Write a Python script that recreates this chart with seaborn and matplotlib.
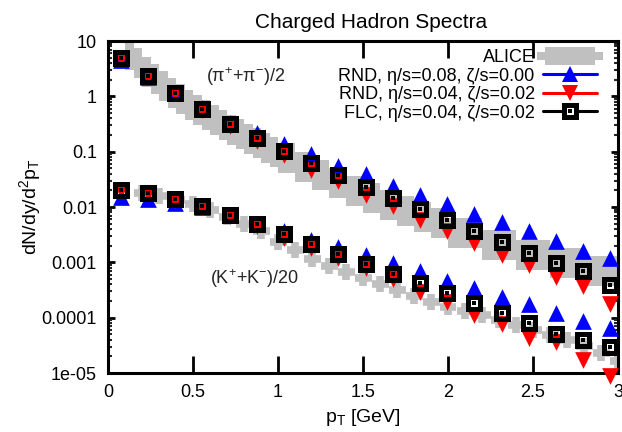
import numpy as np
import matplotlib
matplotlib.use('Agg')
import matplotlib.pyplot as plt
import seaborn as sns
from matplotlib.lines import Line2D
from matplotlib.ticker import FixedLocator, FixedFormatter, LogLocator, NullFormatter

# ── data ────────────────────────────────────────────
pt_model = [0.075, 0.235, 0.395, 0.555, 0.715, 0.875, 1.035, 1.195, 1.355, 1.515,
            1.675, 1.835, 1.995, 2.155, 2.315, 2.475, 2.635, 2.795, 2.955]

# pions (pi+ + pi-)/2
pi_rnd_a = [4.54, 2.23, 1.15, 0.615, 0.330, 0.222, 0.140, 0.0889, 0.0562, 0.0387,
            0.0244, 0.0168, 0.0111, 0.00762, 0.00525, 0.00361, 0.00248, 0.00163, 0.00122]
pi_rnd_b = [4.93, 2.33, 1.15, 0.566, 0.291, 0.153, 0.0853, 0.0476, 0.0301, 0.0168,
            0.0106, 0.00594, 0.00376, 0.00228, 0.00138, 0.000877, 0.000532, 0.000381, 0.000173]
pi_flc = [4.93, 2.33, 1.15, 0.590, 0.316, 0.177, 0.103, 0.0624, 0.0379, 0.0230,
          0.0145, 0.0092, 0.00582, 0.00368, 0.00233, 0.00147, 0.00097, 0.00070, 0.00039]

# kaons (K+ + K-)/20
k_rnd_a = [0.0149, 0.0142, 0.0120, 0.0098, 0.00716, 0.00483, 0.00376, 0.00258, 0.00193, 0.00133,
           0.000953, 0.000711, 0.000469, 0.000337, 0.000241, 0.000173, 0.000119, 8.87e-05, 6.64e-05]
k_rnd_b = [0.0203, 0.0179, 0.0134, 0.0100, 0.00687, 0.00453, 0.00281, 0.00185, 0.00122, 0.000805,
           0.000490, 0.000297, 0.000188, 0.000114, 7.83e-05, 4.38e-05, 3.56e-05, 1.75e-05, 9.0e-06]
k_flc = [0.0203, 0.0179, 0.0139, 0.0104, 0.00716, 0.00493, 0.00325, 0.00214, 0.00141, 0.000933,
         0.000615, 0.000423, 0.000279, 0.000184, 0.000121, 8.0e-05, 5.07e-05, 3.94e-05, 2.95e-05]

# ALICE pions: bin centres, bin widths, values
alice_pi_pt = [0.125, 0.175, 0.225, 0.275, 0.325, 0.375, 0.425, 0.475, 0.525, 0.575,
               0.625, 0.675, 0.725, 0.775, 0.825, 0.875, 0.925, 0.975,
               1.05, 1.15, 1.25, 1.35, 1.45, 1.55, 1.65, 1.75, 1.85, 1.95,
               2.1, 2.3, 2.5, 2.7, 2.9]
alice_pi_bw = [0.05] * 18 + [0.1] * 10 + [0.2] * 5
alice_pi = [5.58, 4.00, 2.75, 2.06, 1.54, 1.15, 0.895, 0.697, 0.566, 0.460,
            0.373, 0.303, 0.246, 0.209, 0.169, 0.143, 0.116, 0.0986,
            0.0768, 0.0528, 0.0379, 0.0271, 0.0195, 0.0145, 0.01086, 0.00846, 0.00659, 0.00514,
            0.00339, 0.00206, 0.00136, 0.000972, 0.000697]
alice_pi_err = 1.85   # multiplicative half-width of the band

alice_k_pt = [0.2, 0.3, 0.4, 0.5, 0.6, 0.7, 0.8, 0.9, 1.0, 1.1, 1.2, 1.3, 1.4, 1.5, 1.6,
              1.7, 1.8, 1.9, 2.0, 2.1, 2.2, 2.3, 2.4, 2.5, 2.6, 2.7, 2.8, 2.9, 3.0]
alice_k = [0.0179, 0.0158, 0.0134, 0.0113, 0.00883, 0.00659, 0.00493, 0.00368, 0.00233, 0.00167,
           0.00115, 0.000859, 0.000668, 0.000521, 0.000406, 0.000316, 0.000246, 0.000192,
           0.000156, 0.000132, 0.000112, 9.08e-05, 7.36e-05, 5.98e-05, 4.85e-05, 3.94e-05,
           3.08e-05, 2.30e-05, 1.65e-05]
alice_k_err = 1.4

y_ticks = [1e-05, 1e-04, 1e-03, 1e-02, 1e-01, 1, 10]
y_ticklabels = ['1e-05', '0.0001', '0.001', '0.01', '0.1', '1', '10']
x_ticks = [0, 0.5, 1, 1.5, 2, 2.5, 3]
x_ticklabels = ['0', '0.5', '1', '1.5', '2', '2.5', '3']

labels = ['ALICE',
          'RND, η/s=0.08, ζ/s=0.00',
          'RND, η/s=0.04, ζ/s=0.02',
          'FLC, η/s=0.04, ζ/s=0.02']

GRAY = '#c0c0c0'
BLUE = '#0000ff'
RED = '#ff0000'

sns.set_theme(style='ticks')
plt.rcParams['font.family'] = ['Liberation Sans', 'DejaVu Sans']
plt.rcParams['mathtext.default'] = 'regular'

fig = plt.figure(figsize=(6.22, 4.32), dpi=100)
ax = fig.add_axes([108 / 622, 1 - 373 / 432, 510 / 622, 332 / 432])
ax.set_yscale('log')

# ALICE pions: boxes
api = np.array(alice_pi)
ax.bar(alice_pi_pt, api * alice_pi_err - api / alice_pi_err, bottom=api / alice_pi_err,
       width=alice_pi_bw, color=GRAY, linewidth=0, zorder=1)
# ALICE kaons: thick error crosses
ak = np.array(alice_k)
ax.errorbar(alice_k_pt, ak, xerr=0.05, yerr=[ak - ak / alice_k_err, ak * alice_k_err - ak],
            fmt='none', ecolor=GRAY, elinewidth=5.5, capsize=0, zorder=1)

# model curves
for series in (pi_rnd_a, k_rnd_a):
    sns.scatterplot(x=pt_model, y=series, marker='^', s=144, color=BLUE,
                    linewidth=0, ax=ax, zorder=3, clip_on=False)
for series in (pi_rnd_b, k_rnd_b):
    sns.scatterplot(x=pt_model, y=series, marker='v', s=144, color=RED,
                    linewidth=0, ax=ax, zorder=4, clip_on=False)
for series in (pi_flc, k_flc):
    ax.plot(pt_model, series, ls='none', marker='s', ms=8.5, mfc='none', mec='black',
            mew=3.6, zorder=5, clip_on=False)
    ax.plot(pt_model, series, ls='none', marker='s', ms=3.4, mfc='black', mec='black',
            mew=0, zorder=5, clip_on=False)

ax.text(0.81, 2.23, '(π$^{+}$+π$^{-}$)/2', ha='center', va='center', fontsize=13)
ax.text(0.86, 5.0e-4, '(K$^{+}$+K$^{-}$)/20', ha='center', va='center', fontsize=13)

ax.set_xlim(0, 3)
ax.set_ylim(1e-05, 10)
ax.xaxis.set_major_locator(FixedLocator(x_ticks))
ax.xaxis.set_major_formatter(FixedFormatter(x_ticklabels))
ax.yaxis.set_major_locator(FixedLocator(y_ticks))
ax.yaxis.set_major_formatter(FixedFormatter(y_ticklabels))
ax.yaxis.set_minor_locator(LogLocator(base=10, subs=np.arange(2, 10)))
ax.yaxis.set_minor_formatter(NullFormatter())

for sp in ax.spines.values():
    sp.set_linewidth(2.2)
    sp.set_color('black')
ax.tick_params(axis='x', which='major', direction='in', length=12, width=2,
               top=True, labelsize=13, pad=8, colors='black')
ax.tick_params(axis='y', which='major', direction='in', length=5, width=2,
               right=True, labelsize=13, pad=8, colors='black')
ax.tick_params(axis='y', which='minor', direction='in', length=3, width=1.5, right=True)

ax.set_xlabel('p$_{T}$ [GeV]', fontsize=14, color='black', labelpad=4)
ax.set_ylabel('dN/dy/d$^{2}$p$_{T}$', fontsize=14, color='black')
ax.yaxis.set_label_coords(-0.128, 0.5)
ax.set_title('Charged Hadron Spectra', fontsize=15, x=0.515, pad=9, color='black')

# legend (gnuplot style: text left, sample right)
box = [(-1.4, -0.5), (1.4, -0.5), (1.4, 0.5), (-1.4, 0.5), (-1.4, -0.5)]
bar = [(-1, -0.12), (1, -0.12), (1, 0.12), (-1, 0.12), (-1, -0.12)]
h_alice = (Line2D([], [], ls='none', marker=bar, ms=47, mfc=GRAY, mew=0),
           Line2D([], [], ls='none', marker=box, ms=36, mfc=GRAY, mew=0))
h_a = Line2D([], [], color=BLUE, lw=2.2, marker='^', ms=12, mfc=BLUE, mew=0)
h_b = Line2D([], [], color=RED, lw=2.2, marker='v', ms=12, mfc=RED, mew=0)
h_c = (Line2D([], [], color='black', lw=2.2, marker='s', ms=8.5, mfc='white', mec='black', mew=3.6),
       Line2D([], [], ls='none', marker='s', ms=3.4, mfc='black', mew=0))
leg = ax.legend([h_alice, h_a, h_b, h_c], labels, loc='upper right',
                bbox_to_anchor=(0.9588, 0.975), frameon=False, markerfirst=False,
                fontsize=13, handlelength=3.0, handletextpad=0.45, labelspacing=0.08,
                borderpad=0, borderaxespad=0, numpoints=1)
for t in leg.get_texts():
    t.set_color('black')

fig.savefig('out.png', dpi=100)
